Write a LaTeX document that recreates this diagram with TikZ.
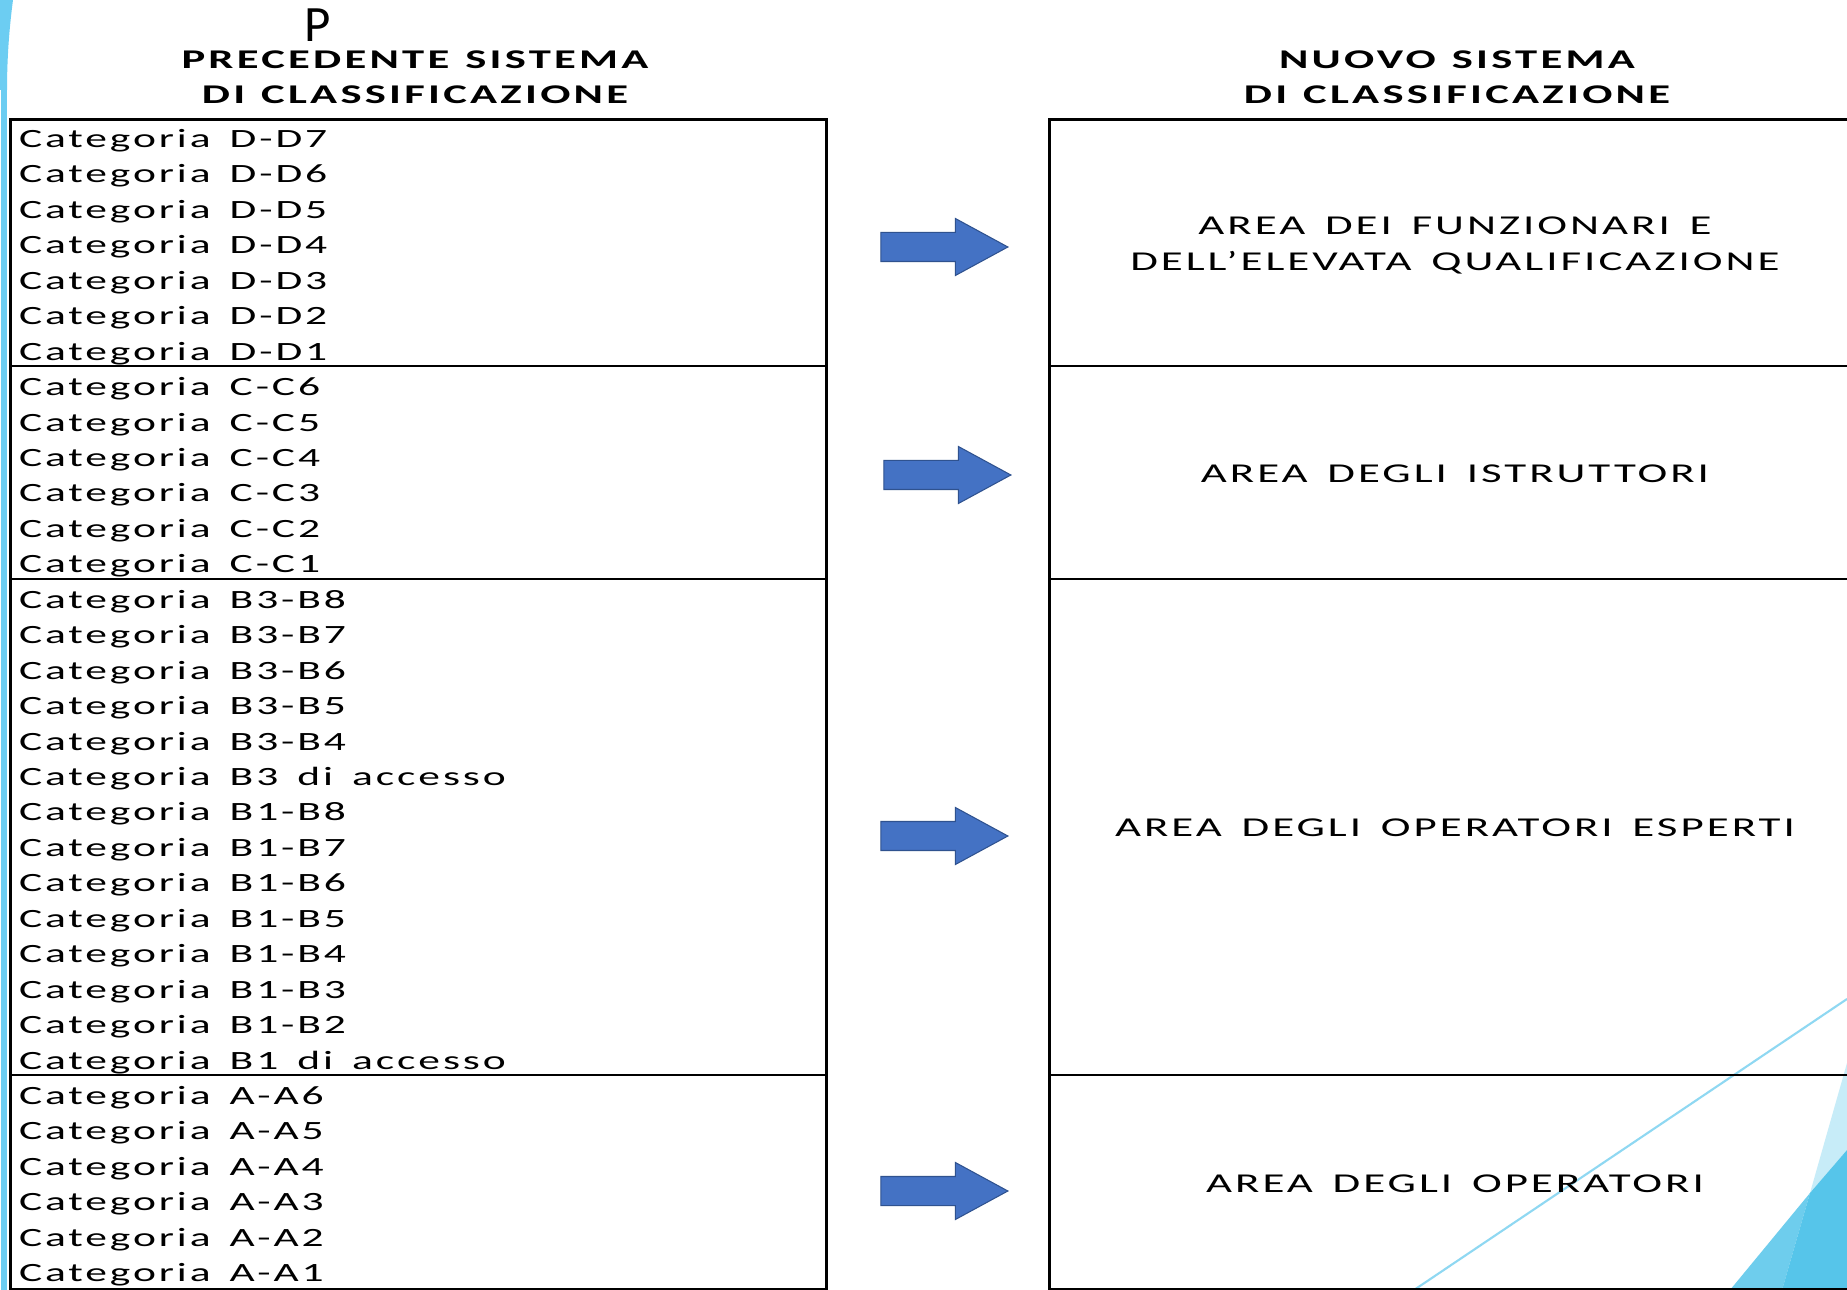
\documentclass[tikz,border=0pt]{standalone}
\usepackage{fontspec}
\setmainfont{Carlito}
\newfontfamily\catfont{Carlito}[FakeStretch=1.65,LetterSpace=11,WordSpace=1.8]
\newfontfamily\areafont{Carlito}[FakeStretch=1.65,LetterSpace=11,WordSpace=1.5]
\newfontfamily\headfont{Carlito}[FakeStretch=1.65,LetterSpace=12,WordSpace=1.2]
\newfontfamily\plainfont{Carlito}
\usepackage{tikz}
\usetikzlibrary{shapes}
\usetikzlibrary{shapes.arrows}
\usetikzlibrary{positioning}
\definecolor{arrowfill}{HTML}{4472C4}
\definecolor{arrowline}{HTML}{2F528F}
\definecolor{decoblue}{HTML}{6CCDF2}
\definecolor{decolight}{HTML}{C7ECF8}
\definecolor{decomid}{HTML}{6ECDED}
\definecolor{decodark}{HTML}{56C5EA}
\definecolor{decoline}{HTML}{8FD8F2}
\tikzset{
    catnode/.style = {text width=15.6cm, align=flush left, inner xsep=0pt, inner ysep=0pt, outer sep=0pt, minimum height=0.709cm, font=\catfont\fontsize{15}{20}\selectfont},
    areanode/.style = {align=center, inner sep=0pt, font=\areafont\fontsize{15.5}{20}\selectfont},
    headnode/.style = {align=center, inner sep=0pt, font=\headfont\bfseries\fontsize{15.4}{20}\selectfont},
    boxnode/.style = {rectangle, draw=black, line width=1.9pt, inner sep=0pt, anchor=north west},
    bigarrow/.style = {single arrow, draw=arrowline, fill=arrowfill, line width=0.6pt, inner xsep=0pt, inner ysep=0.28cm, single arrow head extend=0.28cm, single arrow tip angle=57, single arrow head indent=0pt, minimum height=2.54cm},
    sepline/.style = {-, line width=1.2pt, black},
    decoedge/.style = {-, line width=1.2pt, decoline}, % thin diagonal
}

\begin{document}
\begin{tikzpicture}[x=0.02cm, y=-0.02cm]
\path[use as bounding box, fill=white] (0,0) rectangle (1847,1290);
% decorations
\fill[decoblue] (1,0) rectangle (7,1290);
\fill[decoblue] (0,0) -- (13,0) .. controls (9,30) and (7,60) .. (7,90) -- (0,90) -- cycle;
\draw[decoedge] (1414,1290) -- (1847,999);
\fill[decolight] (1847,1063) -- (1810,1193) -- (1847,1150) -- cycle;
\fill[decomid] (1730,1290) -- (1782,1290) -- (1810,1193) -- cycle;
\fill[decodark] (1810,1193) -- (1782,1290) -- (1847,1290) -- (1847,1150) -- cycle;

\node[font=\plainfont\fontsize{29}{29}\selectfont, inner sep=0pt, text depth=0pt] (stray) at (318,25) {P};
\node[headnode] (oldhead) at (415,77.5) {PRECEDENTE SISTEMA\\DI CLASSIFICAZIONE};
\node[headnode] (newhead) at (1457,77.5) {NUOVO SISTEMA\\DI CLASSIFICAZIONE};

\node[boxnode, minimum width=16.32cm, minimum height=23.4cm] (oldbox) at (9,118) {};
\node[boxnode, minimum width=18cm, minimum height=23.4cm] (newbox) at (1048,118) {};

\node[catnode, anchor=north west] (d7) at (19,123) {Categoria D-D7};
\node[catnode, below=0pt of d7] (d6) {Categoria D-D6};
\node[catnode, below=0pt of d6] (d5) {Categoria D-D5};
\node[catnode, below=0pt of d5] (d4) {Categoria D-D4};
\node[catnode, below=0pt of d4] (d3) {Categoria D-D3};
\node[catnode, below=0pt of d3] (d2) {Categoria D-D2};
\node[catnode, below=0pt of d2] (d1) {Categoria D-D1};
\node[catnode, below=0pt of d1] (c6) {Categoria C-C6};
\node[catnode, below=0pt of c6] (c5) {Categoria C-C5};
\node[catnode, below=0pt of c5] (c4) {Categoria C-C4};
\node[catnode, below=0pt of c4] (c3) {Categoria C-C3};
\node[catnode, below=0pt of c3] (c2) {Categoria C-C2};
\node[catnode, below=0pt of c2] (c1) {Categoria C-C1};
\node[catnode, below=0pt of c1] (b38) {Categoria B3-B8};
\node[catnode, below=0pt of b38] (b37) {Categoria B3-B7};
\node[catnode, below=0pt of b37] (b36) {Categoria B3-B6};
\node[catnode, below=0pt of b36] (b35) {Categoria B3-B5};
\node[catnode, below=0pt of b35] (b34) {Categoria B3-B4};
\node[catnode, below=0pt of b34] (b3acc) {Categoria B3 di accesso};
\node[catnode, below=0pt of b3acc] (b18) {Categoria B1-B8};
\node[catnode, below=0pt of b18] (b17) {Categoria B1-B7};
\node[catnode, below=0pt of b17] (b16) {Categoria B1-B6};
\node[catnode, below=0pt of b16] (b15) {Categoria B1-B5};
\node[catnode, below=0pt of b15] (b14) {Categoria B1-B4};
\node[catnode, below=0pt of b14] (b13) {Categoria B1-B3};
\node[catnode, below=0pt of b13] (b12) {Categoria B1-B2};
\node[catnode, below=0pt of b12] (b1acc) {Categoria B1 di accesso};
\node[catnode, below=0pt of b1acc] (a6) {Categoria A-A6};
\node[catnode, below=0pt of a6] (a5) {Categoria A-A5};
\node[catnode, below=0pt of a5] (a4) {Categoria A-A4};
\node[catnode, below=0pt of a4] (a3) {Categoria A-A3};
\node[catnode, below=0pt of a3] (a2) {Categoria A-A2};
\node[catnode, below=0pt of a2] (a1) {Categoria A-A1};

\draw[sepline] ([yshift=0.1cm]d1.south -| oldbox.west) -- ([yshift=0.1cm]d1.south -| oldbox.east);
\draw[sepline] ([yshift=0.1cm]c1.south -| oldbox.west) -- ([yshift=0.1cm]c1.south -| oldbox.east);
\draw[sepline] ([yshift=0.1cm]b1acc.south -| oldbox.west) -- ([yshift=0.1cm]b1acc.south -| oldbox.east);
\draw[sepline] ([yshift=0.1cm]d1.south -| newbox.west) -- ([yshift=0.1cm]d1.south -| newbox.east);
\draw[sepline] ([yshift=0.1cm]c1.south -| newbox.west) -- ([yshift=0.1cm]c1.south -| newbox.east);
\draw[sepline] ([yshift=0.1cm]b1acc.south -| newbox.west) -- ([yshift=0.1cm]b1acc.south -| newbox.east);

\node[areanode] (funz) at (1455,245.5) {AREA DEI FUNZIONARI E\\DELL’ELEVATA QUALIFICAZIONE};
\node[areanode] (istr) at (1455,474) {AREA DEGLI ISTRUTTORI};
\node[areanode] (opesp) at (1455,828) {AREA DEGLI OPERATORI ESPERTI};
\node[areanode] (oper) at (1455,1184) {AREA DEGLI OPERATORI};

\node[bigarrow] (arrd) at (931,247) {};
\node[bigarrow] (arrc) at (934,475) {};
\node[bigarrow] (arrb) at (931,836) {};
\node[bigarrow] (arra) at (931,1191) {};
\end{tikzpicture}
\end{document}
